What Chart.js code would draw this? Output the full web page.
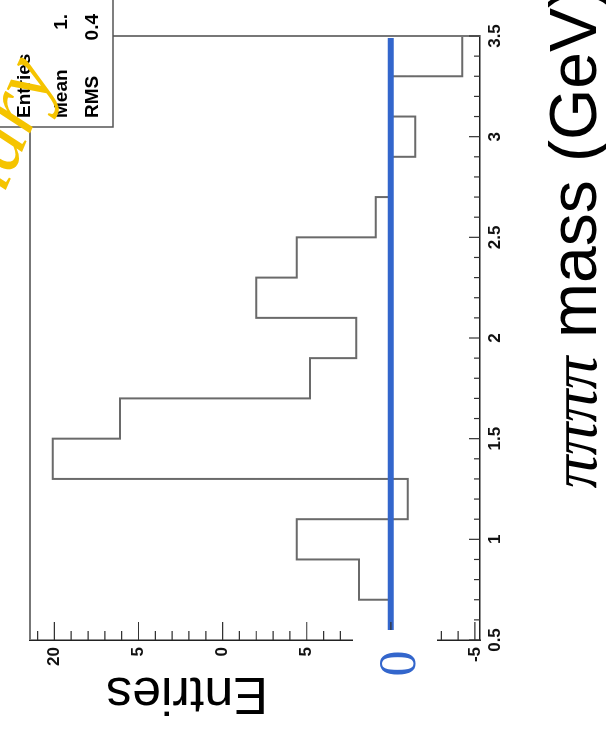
<!DOCTYPE html>
<html>
<head>
<meta charset="utf-8">
<script src="https://cdn.jsdelivr.net/npm/chart.js@4.4.0/dist/chart.umd.min.js"></script>
<style>
  html, body { margin: 0; padding: 0; background: #ffffff; overflow: hidden; }
  #wrap { position: relative; width: 606px; height: 734px; overflow: hidden; background: #ffffff; }
  /* the histogram is drawn upright and then turned a quarter turn to the left */
  #massChart {
    position: absolute; left: 0; top: 0;
    transform-origin: 0 0;
    transform: translate(0, 734px) rotate(-90deg);
  }
</style>
</head>
<body>
<div id="wrap">
  <canvas id="massChart" width="734" height="606"></canvas>
</div>
<script>
// 4-pion invariant mass, 0.2 GeV bins (background subtracted, so some bins go negative)
const massBinEdges = [0.5, 0.7, 0.9, 1.1, 1.3, 1.5, 1.7, 1.9, 2.1, 2.3, 2.5, 2.7, 2.9, 3.1, 3.3, 3.5];
const entriesPerBin = [0, 1.9, 5.6, -1.0, 20.1, 16.1, 4.8, 2.05, 8.0, 5.6, 0.9, 0, -1.45, 0, -4.25];

// zero reference line
const zeroLineMass = [0.5, 3.49];
const zeroLineEntries = [0, 0];

// axis ticks
const massTicks = [0.5, 1, 1.5, 2, 2.5, 3, 3.5];
const massTickLabels = ['0.5', '1', '1.5', '2', '2.5', '3', '3.5'];
const entriesTicks = [-5, 0, 5, 10, 15, 20];
const entriesTickLabels = ['-5', '', '5', '0', '5', '20'];

// stats box
const statNames = ['Entries', 'Mean', 'RMS'];
const statValues = ['', '1.', '0.4'];

const histPoints = massBinEdges.map((m, i) => ({
    x: m,
    y: entriesPerBin[Math.min(i, entriesPerBin.length - 1)]
}));
const zeroPoints = zeroLineMass.map((m, i) => ({ x: m, y: zeroLineEntries[i] }));

const SANS = '"Liberation Sans", Arial, sans-serif';
const SERIF = '"Liberation Serif", "Times New Roman", serif';

// ROOT style decorations: inner ticks, frame, stats box, titles
const rootStyle = {
    id: 'rootStyle',
    afterDraw(chart) {
        const { ctx, chartArea: a, scales: { x, y } } = chart;
        const statsLeft = 607, statsBottom = 113;

        ctx.save();

        // frame on the two free sides
        ctx.strokeStyle = '#777777';
        ctx.lineWidth = 2;
        ctx.beginPath();
        ctx.moveTo(a.left, a.top);
        ctx.lineTo(statsLeft, a.top);
        ctx.moveTo(a.right, a.bottom);
        ctx.lineTo(a.right, statsBottom);
        ctx.stroke();

        // inner ticks
        ctx.strokeStyle = '#333333';
        ctx.lineWidth = 1.2;
        ctx.beginPath();
        for (let k = 5; k <= 35; k++) {
            const px = x.getPixelForValue(k / 10);
            const len = k % 5 === 0 ? 11 : 6;
            ctx.moveTo(px, a.bottom);
            ctx.lineTo(px, a.bottom - len);
        }
        for (let k = -5; k <= 21; k++) {
            const py = y.getPixelForValue(k);
            const len = k % 5 === 0 ? 18 : 9;
            ctx.moveTo(a.left, py);
            ctx.lineTo(a.left + len, py);
        }
        ctx.stroke();

        // stats box
        ctx.fillStyle = '#ffffff';
        ctx.fillRect(statsLeft, -2, 200, statsBottom + 2);
        ctx.strokeStyle = '#555555';
        ctx.lineWidth = 1.5;
        ctx.strokeRect(statsLeft, -2, 200, statsBottom + 2);
        ctx.fillStyle = '#000000';
        ctx.font = 'bold 19px ' + SANS;
        ctx.textBaseline = 'middle';
        const rowV = [25, 62, 93];
        statNames.forEach((name, i) => {
            ctx.textAlign = 'left';
            ctx.fillText(name, 616, rowV[i]);
            ctx.textAlign = 'right';
            ctx.fillText(statValues[i], 720, rowV[i]);
        });

        // y title
        ctx.save();
        ctx.translate(56, 187);
        ctx.rotate(-Math.PI / 2);
        ctx.font = '52px ' + SANS;
        ctx.textAlign = 'center';
        ctx.textBaseline = 'alphabetic';
        ctx.fillText('Entries', 0, 0);
        ctx.restore();

        // x title, laid out backwards from the unit so it runs off the right end
        ctx.textAlign = 'left';
        ctx.textBaseline = 'alphabetic';
        const base = 596;
        const unitStart = 572;
        ctx.font = '66px ' + SANS;
        const wMass = ctx.measureText(' mass ').width;
        ctx.fillText('(GeV)', unitStart, base);
        ctx.fillText(' mass ', unitStart - wMass, base);
        ctx.font = 'italic 66px ' + SERIF;
        const wPi = ctx.measureText('ππππ').width;
        ctx.fillText('ππππ', unitStart - wMass - wPi, base);

        // patch with the zero marker
        ctx.fillStyle = '#ffffff';
        ctx.fillRect(30, 353, 74, 84);
        ctx.fillStyle = '#3366cc';
        ctx.font = '52px ' + SERIF;
        ctx.textAlign = 'center';
        ctx.fillText('0', 70.5, 415);

        // watermark
        ctx.save();
        ctx.translate(662, 56);
        ctx.rotate(23 * Math.PI / 180);
        ctx.font = 'italic 84px ' + SERIF;
        ctx.fillStyle = '#f5c400';
        ctx.textAlign = 'right';
        ctx.fillText('Preliminary', 0, 0);
        ctx.restore();

        ctx.restore();
    }
};

new Chart(document.getElementById('massChart'), {
    type: 'line',
    data: {
        datasets: [
            {
                label: 'zero',
                data: zeroPoints,
                borderColor: '#3366cc',
                borderWidth: 6,
                pointRadius: 0,
                fill: false
            },
            {
                label: 'entries',
                data: histPoints,
                stepped: true,
                borderColor: '#6a6a6a',
                borderWidth: 2,
                pointRadius: 0,
                fill: false
            }
        ]
    },
    options: {
        responsive: false,
        animation: false,
        devicePixelRatio: 1,
        layout: { padding: { left: 0, top: 30, right: 36, bottom: 0 } },
        plugins: {
            legend: { display: false },
            tooltip: { enabled: false }
        },
        scales: {
            x: {
                type: 'linear',
                position: 'bottom',
                min: 0.5,
                max: 3.5,
                afterFit: (s) => { s.height = 126; },
                afterBuildTicks: (s) => { s.ticks = massTicks.map(v => ({ value: v })); },
                grid: { display: false, drawTicks: false },
                border: { display: true, color: '#222222', width: 1.5 },
                ticks: {
                    autoSkip: false,
                    maxRotation: 0,
                    padding: 5,
                    color: '#111111',
                    font: { family: SANS, size: 17, weight: 'bold' },
                    callback: (v) => massTickLabels[massTicks.indexOf(v)]
                }
            },
            y: {
                type: 'linear',
                min: -5.3,
                max: 21.45,
                afterFit: (s) => { s.width = 94; },
                afterBuildTicks: (s) => { s.ticks = entriesTicks.map(v => ({ value: v })); },
                grid: { display: false, drawTicks: false },
                border: { display: true, color: '#222222', width: 1.5 },
                ticks: {
                    padding: 7,
                    color: '#111111',
                    font: { family: SANS, size: 17, weight: 'bold' },
                    callback: (v) => entriesTickLabels[entriesTicks.indexOf(v)]
                }
            }
        }
    },
    plugins: [rootStyle]
});
</script>
</body>
</html>
